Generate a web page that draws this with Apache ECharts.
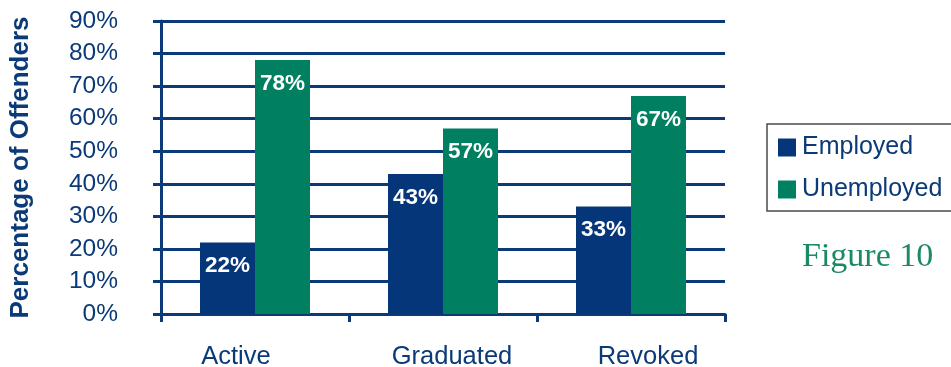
<!DOCTYPE html>
<html>
<head>
<meta charset="utf-8">
<style>
  html, body { margin: 0; padding: 0; background: #ffffff; }
  #chart { width: 951px; height: 367px; }
</style>
<script src="https://cdn.jsdelivr.net/npm/echarts@6/dist/echarts.min.js"></script>
</head>
<body>
<div id="chart"></div>
<script>
// Share of offenders by employment status at program exit
const categories = ['Active', 'Graduated', 'Revoked'];
const employed = [22, 43, 33];
const unemployed = [78, 57, 67];
const seriesNames = ['Employed', 'Unemployed'];
const yTicks = [0, 10, 20, 30, 40, 50, 60, 70, 80, 90];

const NAVY = '#0a3a78';
const BLUE = '#06367a';
const GREEN = '#008060';
const FONT = '"Liberation Sans", Arial, sans-serif';

// horizontal nudge (px) of each category caption away from its tick centre
const captionNudge = { Active: -19, Graduated: 9, Revoked: 17 };

const chart = echarts.init(document.getElementById('chart'));

const barLabel = {
  show: true,
  position: 'insideTop',
  distance: 12,
  color: '#ffffff',
  fontFamily: FONT,
  fontWeight: 'bold',
  fontSize: 22.5,
  formatter: p => p.value + '%'
};

const xData = categories.map(name => {
  const n = captionNudge[name] || 0;
  return {
    value: name,
    textStyle: { padding: n < 0 ? [0, -2 * n, 0, 0] : [0, 0, 0, 2 * n] }
  };
});

chart.setOption({
  animation: false,
  grid: {
    left: 161, right: 226, top: 21, bottom: 53,
    containLabel: false,
    outerBoundsMode: 'none'
  },
  legend: {
    orient: 'vertical',
    left: 767,
    top: 124,
    data: seriesNames,
    itemWidth: 18,
    itemHeight: 18,
    itemGap: 17,
    padding: [11, 18, 9, 11],
    borderColor: '#4a4a4a',
    borderWidth: 1.5,
    icon: 'rect',
    textStyle: {
      fontFamily: FONT,
      fontSize: 25,
      lineHeight: 25,
      color: NAVY,
      padding: [0, 0, 0, 1]
    }
  },
  xAxis: {
    type: 'category',
    data: xData,
    boundaryGap: true,
    axisLine: { lineStyle: { color: NAVY, width: 3 } },
    axisTick: { show: true, length: 8, lineStyle: { color: NAVY, width: 3 } },
    axisLabel: {
      margin: 30,
      fontFamily: FONT,
      fontSize: 25.5,
      color: NAVY
    }
  },
  yAxis: {
    type: 'value',
    min: yTicks[0],
    max: yTicks[yTicks.length - 1],
    interval: 10,
    name: 'Percentage of Offenders',
    nameLocation: 'middle',
    nameGap: 127,
    nameTextStyle: {
      fontFamily: FONT,
      fontWeight: 'bold',
      fontSize: 26,
      color: NAVY
    },
    axisLine: { show: true, lineStyle: { color: NAVY, width: 3 } },
    axisTick: { show: true, length: 8, lineStyle: { color: NAVY, width: 3 } },
    splitLine: { show: true, lineStyle: { color: NAVY, width: 3 } },
    axisLabel: {
      margin: 43,
      fontFamily: FONT,
      fontSize: 24.5,
      color: NAVY,
      formatter: '{value}%'
    }
  },
  graphic: [{
    type: 'text',
    left: 802,
    top: 240,
    style: {
      text: 'Figure 10',
      fontFamily: '"Liberation Serif", "Times New Roman", serif',
      fontSize: 34,
      fill: '#1a8a66'
    }
  }],
  series: [
    {
      name: seriesNames[0],
      type: 'bar',
      data: employed,
      barWidth: 55,
      barGap: '0%',
      itemStyle: { color: BLUE },
      label: barLabel
    },
    {
      name: seriesNames[1],
      type: 'bar',
      data: unemployed,
      barWidth: 55,
      barGap: '0%',
      itemStyle: { color: GREEN },
      label: barLabel
    }
  ]
});
</script>
</body>
</html>
